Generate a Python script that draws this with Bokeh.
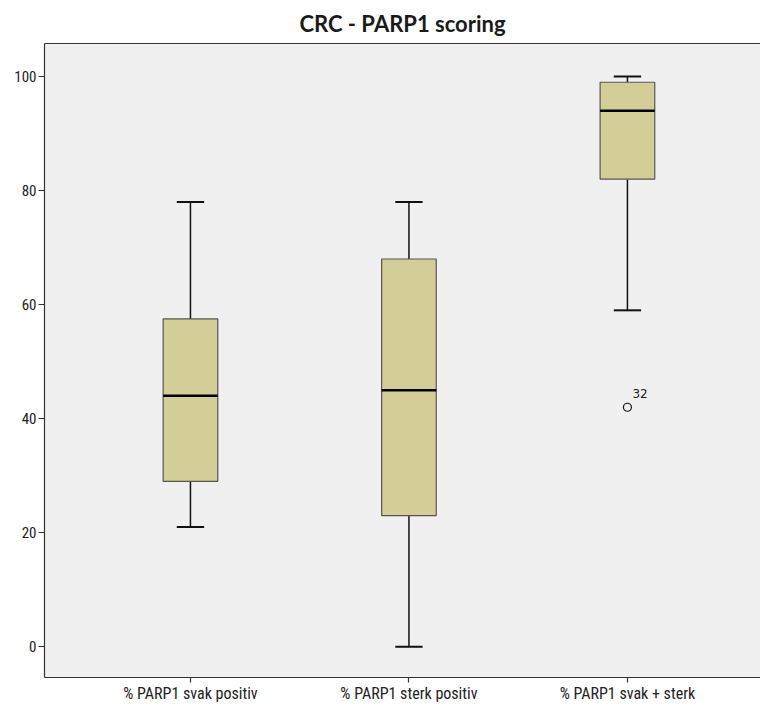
from bokeh.plotting import figure
from bokeh.models import Range1d, FixedTicker, ColumnDataSource, LinearAxis
from bokeh.core.properties import value
from bokeh.embed import file_html
from bokeh.resources import INLINE

categories = ["% PARP1 svak positiv", "% PARP1 sterk positiv", "% PARP1 svak + sterk"]
lower = [21, 0, 59]
q1 = [29, 23, 82]
median = [44, 45, 94]
q3 = [57.5, 68, 99]
upper = [78, 78, 100]
outlier_cat = [2]
outlier_val = [42]
outlier_label = ["32"]
y_ticks = [0, 20, 40, 60, 80, 100]

FONT = "Roboto Condensed, Liberation Sans Narrow, Arial Narrow, sans-serif"

xs = list(range(len(categories)))
box_w = 0.25
cap_w = 0.125

p = figure(width=760, height=706, output_backend="svg", toolbar_location=None,
           x_range=Range1d(-0.668, 2.609), y_range=Range1d(-5.4, 105.8),
           min_border_left=44, min_border_right=0, min_border_top=42, min_border_bottom=29)

p.title.text = "CRC - PARP1 scoring"
p.title.align = "center"
p.title.text_font = "Lato"
p.title.text_font_size = "22px"
p.title.text_font_style = "bold"
p.title.text_color = "#1a1a1a"
p.title.standoff = 14

p.background_fill_color = "#f0f0f0"
p.border_fill_color = "white"
p.outline_line_color = None
p.xgrid.visible = False
p.ygrid.visible = False

src = ColumnDataSource(dict(x=xs, lower=lower, q1=q1, med=median, q3=q3, upper=upper,
                            cl=[x - cap_w / 2 for x in xs], cr=[x + cap_w / 2 for x in xs],
                            bl=[x - box_w / 2 for x in xs], br=[x + box_w / 2 for x in xs]))

# whiskers
p.segment(x0="x", y0="q3", x1="x", y1="upper", source=src, line_color="#111111", line_width=1.5)
p.segment(x0="x", y0="q1", x1="x", y1="lower", source=src, line_color="#111111", line_width=1.5)
p.segment(x0="cl", y0="upper", x1="cr", y1="upper", source=src, line_color="#111111", line_width=2)
p.segment(x0="cl", y0="lower", x1="cr", y1="lower", source=src, line_color="#111111", line_width=2)
# boxes
p.vbar(x="x", width=box_w, bottom="q1", top="q3", source=src,
       fill_color="#d3ce98", line_color="#555555", line_width=1.2)
# medians
p.segment(x0="bl", y0="med", x1="br", y1="med", source=src, line_color="black", line_width=2.5)

# outlier
osrc = ColumnDataSource(dict(x=outlier_cat, y=outlier_val, t=outlier_label))
p.scatter(x="x", y="y", source=osrc, marker="circle", size=8, fill_color=None,
          line_color="#111111", line_width=1.2)
p.text(x="x", y="y", text="t", source=osrc, x_offset=5, y_offset=-9,
       text_font=value("DejaVu Sans"), text_font_size="12px", text_color="#222222",
       text_baseline="bottom")

# axes
bottom = p.below[0]
left = p.left[0]
bottom.ticker = FixedTicker(ticks=xs)
bottom.major_label_overrides = {i: c for i, c in enumerate(categories)}
left.ticker = FixedTicker(ticks=y_ticks)
for ax in (bottom, left):
    ax.major_tick_out = 6
    ax.major_tick_in = 0
    ax.minor_tick_line_color = None
    ax.axis_line_color = "#333333"
    ax.axis_line_width = 1.2
    ax.major_tick_line_color = "#333333"
    ax.major_tick_line_width = 1.2
    ax.major_label_text_font = FONT
    ax.major_label_text_color = "#222222"
left.major_label_text_font_size = "15px"
bottom.major_label_text_font_size = "16px"
left.major_label_standoff = 2
bottom.major_tick_out = 5
bottom.major_label_standoff = 1

# top frame line only (right edge runs off the picture)
top = LinearAxis(ticker=FixedTicker(ticks=[]), axis_line_color="#333333", axis_line_width=1.2,
                 major_tick_line_color=None, minor_tick_line_color=None,
                 major_label_text_font_size="0px", major_label_standoff=0)
p.add_layout(top, "above")

open("out.html", "w").write(file_html(p, INLINE))
